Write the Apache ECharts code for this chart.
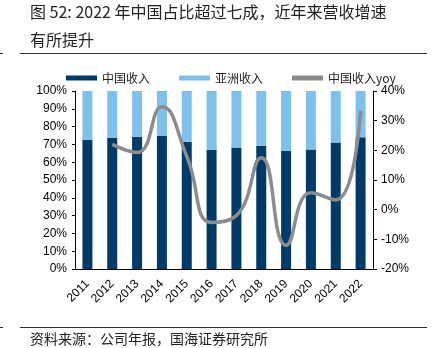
<!DOCTYPE html>
<html><head><meta charset="utf-8">
<script src="https://cdn.jsdelivr.net/npm/echarts@6/dist/echarts.min.js"></script>
<style>html,body{margin:0;padding:0;background:#fff}#c{width:437px;height:348px}</style>
</head><body><div id="c"></div>
<script>
const years = ['2011','2012','2013','2014','2015','2016','2017','2018','2019','2020','2021','2022'];
const chinaShare = [72.5, 73.8, 74.2, 74.7, 71.5, 67.0, 68.2, 69.3, 66.5, 67.2, 71.0, 74.0];
const asiaShare  = [27.5, 26.2, 25.8, 25.3, 28.5, 33.0, 31.8, 30.7, 33.5, 32.8, 29.0, 26.0];
const chinaYoy   = [null, 22.0, 19.3, 34.7, 18.0, -4.3, -2.0, 17.5, -12.0, 5.7, 3.3, 33.3];
const leftTicks = {min: 0, max: 100, interval: 10};
const rightTicks = {min: -20, max: 40, interval: 10};

const chart = echarts.init(document.getElementById('c'), null, {renderer: 'canvas'});
const FONT = '"Liberation Sans", Arial, "Noto Sans CJK SC", sans-serif';
const CJK = '"Noto Sans CJK SC", sans-serif';
chart.setOption({
  animation: false,
  textStyle: {fontFamily: FONT},
  title: {
    text: '图 52: 2022 年中国占比超过七成，近年来营收增速\n有所提升',
    left: 30, top: -2, padding: 0,
    textStyle: {fontSize: 16, fontWeight: 'normal', color: '#222', fontFamily: CJK, lineHeight: 28}
  },
  graphic: [
    {type: 'line', shape: {x1: 20, y1: 53.5, x2: 427, y2: 53.5}, style: {stroke: '#333', lineWidth: 1}},
    {type: 'line', shape: {x1: 0, y1: 53.5, x2: 3, y2: 53.5}, style: {stroke: '#333', lineWidth: 1}},
    {type: 'line', shape: {x1: 20, y1: 327.5, x2: 427, y2: 327.5}, style: {stroke: '#333', lineWidth: 1}},
    {type: 'line', shape: {x1: 0, y1: 327.5, x2: 3, y2: 327.5}, style: {stroke: '#333', lineWidth: 1}},
    {type: 'text', x: 30, y: 332, style: {text: '资料来源：公司年报，国海证券研究所', font: '14px ' + CJK, fill: '#222'}}
  ],
  legend: {
    left: 61, top: 67, itemWidth: 31, itemHeight: 5, itemGap: 29,
    textStyle: {fontSize: 12, color: '#222', fontFamily: CJK},
    data: [
      {name: '中国收入', icon: 'rect'},
      {name: '亚洲收入', icon: 'rect'},
      {name: '中国收入yoy', icon: 'rect', itemStyle: {color: '#8c8c8c'}}
    ]
  },
  grid: {left: 75, right: 64, top: 91, bottom: 79},
  xAxis: {
    type: 'category', data: years,
    axisLine: {lineStyle: {color: '#000', width: 1}},
    axisTick: {show: false},
    axisLabel: {rotate: 45, fontSize: 12, color: '#000', margin: 13, interval: 0}
  },
  yAxis: [
    {type: 'value', min: leftTicks.min, max: leftTicks.max, interval: leftTicks.interval, position: 'left',
     axisLine: {show: true, lineStyle: {color: '#000'}},
     axisTick: {show: true, length: 3, lineStyle: {color: '#000'}},
     splitLine: {show: false},
     axisLabel: {formatter: '{value}%', fontSize: 12, color: '#000', margin: 8}},
    {type: 'value', min: rightTicks.min, max: rightTicks.max, interval: rightTicks.interval, position: 'right',
     axisLine: {show: true, lineStyle: {color: '#000'}},
     axisTick: {show: true, length: 4, lineStyle: {color: '#000'}},
     splitLine: {show: false},
     axisLabel: {formatter: '{value}%', fontSize: 12, color: '#000', margin: 8}}
  ],
  series: [
    {name: '中国收入', type: 'bar', stack: 's', data: chinaShare, barWidth: 10, itemStyle: {color: '#003A68'}},
    {name: '亚洲收入', type: 'bar', stack: 's', data: asiaShare, barWidth: 10, itemStyle: {color: '#7DC1EC'}},
    {name: '中国收入yoy', type: 'line', yAxisIndex: 1, data: chinaYoy, smooth: 0.5, showSymbol: false, symbol: 'none',
     lineStyle: {color: '#8c8c8c', width: 3.5}, itemStyle: {color: '#8c8c8c'}}
  ]
});
</script></body></html>
